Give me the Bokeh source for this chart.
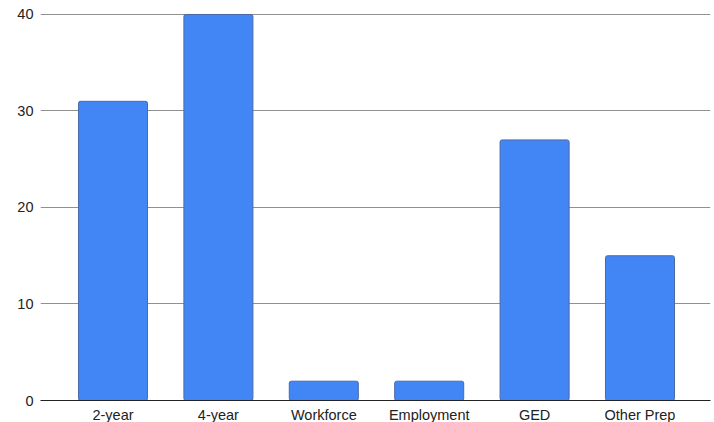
from bokeh.plotting import figure
from bokeh.models import Range1d, FixedTicker, ColumnDataSource
from bokeh.embed import file_html
from bokeh.resources import INLINE

categories = ["2-year", "4-year", "Workforce", "Employment", "GED", "Other Prep"]
values = [31, 40, 2, 2, 27, 15]
y_ticks = [0, 10, 20, 30, 40]

xs = list(range(len(categories)))
src = ColumnDataSource(data=dict(x=xs, top=values))

p = figure(width=714, height=422, output_backend="svg", toolbar_location=None,
           x_range=Range1d(-0.688, 5.669), y_range=Range1d(0, 40.1),
           frame_width=670, frame_height=387,
           min_border_left=40, min_border_top=13, min_border_right=4, min_border_bottom=22)
p.outline_line_color = None
p.background_fill_color = "white"

p.vbar(x="x", top="top", bottom=0, width=0.655, source=src,
       fill_color="#4285F4", line_color="#4a6aa8", line_width=1, border_radius=2)

p.xgrid.visible = False
p.ygrid.ticker = FixedTicker(ticks=y_ticks)
p.ygrid.grid_line_color = "#909090"
p.ygrid.grid_line_width = 1

p.yaxis.ticker = FixedTicker(ticks=y_ticks)
p.yaxis.axis_line_color = None
p.yaxis.major_tick_line_color = None
p.yaxis.minor_tick_line_color = None
p.yaxis.major_tick_out = 0
p.yaxis.major_label_standoff = 7
p.yaxis.major_label_text_font = "Liberation Sans"
p.yaxis.major_label_text_font_size = "14.5px"
p.yaxis.major_label_text_color = "#222222"

p.xaxis.ticker = FixedTicker(ticks=xs)
p.xaxis.major_label_overrides = {i: c for i, c in zip(xs, categories)}
p.xaxis.axis_line_color = "#222222"
p.xaxis.axis_line_width = 1
p.xaxis.major_tick_line_color = None
p.xaxis.minor_tick_line_color = None
p.xaxis.major_tick_out = 0
p.xaxis.major_label_standoff = 6
p.xaxis.major_label_text_font = "Liberation Sans"
p.xaxis.major_label_text_font_size = "14.5px"
p.xaxis.major_label_text_color = "#222222"

open("out.html", "w").write(file_html(p, INLINE))
